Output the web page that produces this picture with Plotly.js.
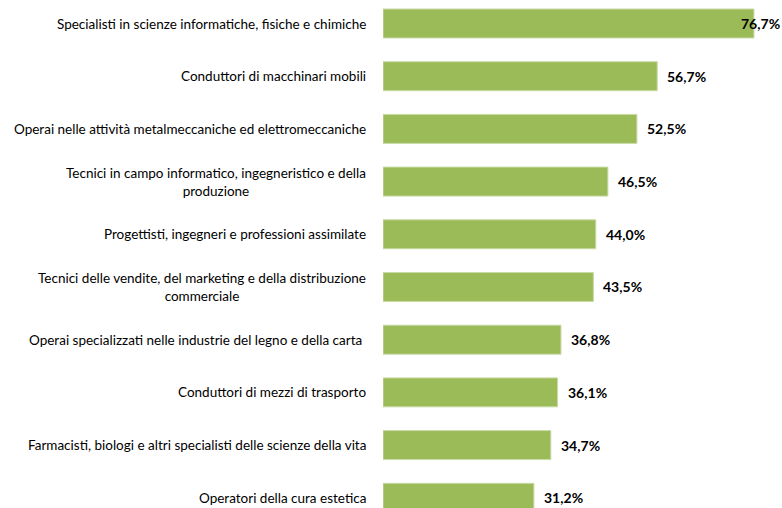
<!DOCTYPE html>
<html><head><meta charset="utf-8">
<script src="https://cdn.plot.ly/plotly-3.0.1.min.js"></script>
<style>html,body{margin:0;padding:0;background:#fff}</style>
</head><body>
<div id="chart" style="width:782px;height:508px"></div>
<script>
const categories = [
  "Specialisti in scienze informatiche, fisiche e chimiche",
  "Conduttori di macchinari mobili",
  "Operai nelle attività metalmeccaniche ed elettromeccaniche",
  "Tecnici in campo informatico, ingegneristico e della<br>produzione",
  "Progettisti, ingegneri e professioni assimilate",
  "Tecnici delle vendite, del marketing e della distribuzione<br>commerciale",
  "Operai specializzati nelle industrie del legno e della carta ",
  "Conduttori di mezzi di trasporto",
  "Farmacisti, biologi e altri specialisti delle scienze della vita",
  "Operatori della cura estetica"
];
const values = [76.7, 56.7, 52.5, 46.5, 44.0, 43.5, 36.8, 36.1, 34.7, 31.2];
const valueLabels = ["76,7%","56,7%","52,5%","46,5%","44,0%","43,5%","36,8%","36,1%","34,7%","31,2%"];

const font = "Lato, 'Open Sans', sans-serif";
const xMax = 82.5;
const annotations = [];
categories.forEach((c, i) => {
  annotations.push({
    xref: 'paper', x: 0, xanchor: 'right', xshift: -15,
    yref: 'y', y: c, yanchor: 'middle',
    text: c, showarrow: false, align: 'center',
    font: {family: font, size: 13.5, color: '#000'}
  });
});
values.forEach((v, i) => {
  const overflow = v > 75;
  annotations.push({
    xref: overflow ? 'paper' : 'x', x: overflow ? 1 : v,
    xanchor: overflow ? 'right' : 'left', xshift: overflow ? 0 : 8,
    yref: 'y', y: categories[i], yanchor: 'middle',
    text: '<b>' + valueLabels[i] + '</b>', showarrow: false,
    font: {family: font, size: 14, color: '#000'}
  });
});

const trace = {
  type: 'bar', orientation: 'h',
  x: values, y: categories,
  width: 0.55,
  marker: {color: '#9BBB59', line: {color: '#C9DBA6', width: 1}},
  hoverinfo: 'none'
};
const layout = {
  width: 782, height: 508,
  margin: {l: 383, r: 0, t: 0, b: 0, pad: 0},
  paper_bgcolor: '#fff', plot_bgcolor: '#fff',
  showlegend: false,
  xaxis: {range: [0, xMax], visible: false, fixedrange: true},
  yaxis: {type: 'category', range: [9.194, -0.446], showticklabels: false,
          showgrid: false, zeroline: false, showline: false, ticks: ''},
  annotations: annotations
};
Plotly.newPlot('chart', [trace], layout, {displayModeBar: false, staticPlot: true});
</script>
</body></html>
